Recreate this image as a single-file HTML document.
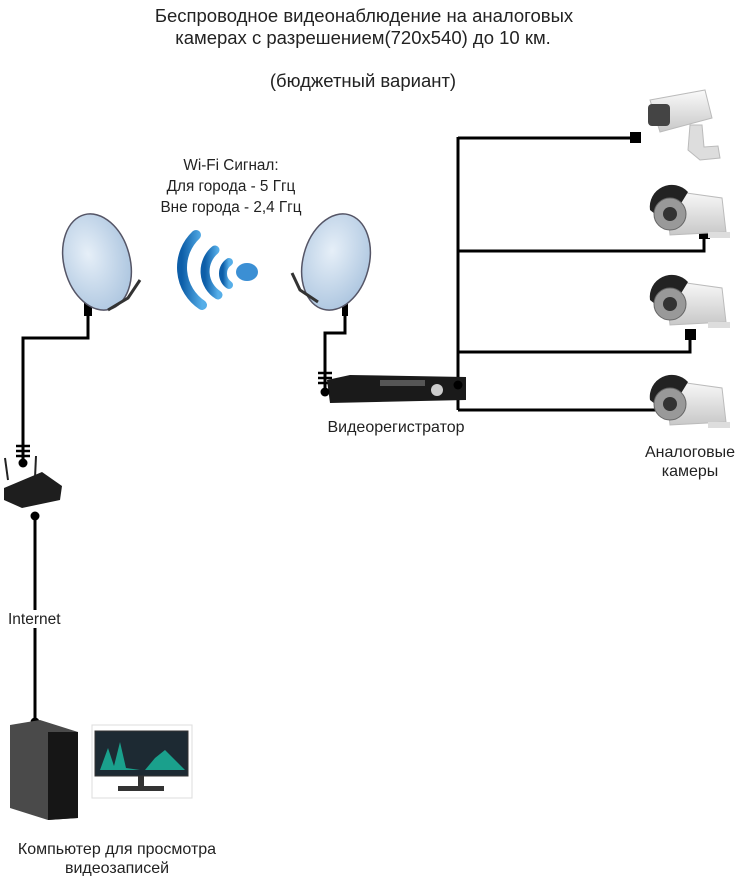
<!DOCTYPE html>
<html><head><meta charset="utf-8"><style>
html,body{margin:0;padding:0;background:#fff;}
svg{display:block;font-family:"Liberation Sans",sans-serif;}
</style></head><body>
<svg width="741" height="876" viewBox="0 0 741 876" xmlns="http://www.w3.org/2000/svg">
<defs>
<radialGradient id="dish" cx="40%" cy="40%" r="70%"><stop offset="0" stop-color="#e6eff8"/><stop offset="1" stop-color="#a9c3de"/></radialGradient>
<linearGradient id="wave" x1="0" x2="1"><stop offset="0" stop-color="#0d5ea8"/><stop offset="1" stop-color="#56aee8"/></linearGradient>
<linearGradient id="cam" x1="0" y1="0" x2="0" y2="1"><stop offset="0" stop-color="#fafafa"/><stop offset="1" stop-color="#c8c8c8"/></linearGradient>
</defs>
<g font-size="18.5" fill="#222" text-anchor="middle">
<text x="364" y="22">Беспроводное видеонаблюдение на аналоговых</text>
<text x="363" y="44">камерах с разрешением(720х540) до 10 км.</text>
<text x="363" y="87">(бюджетный вариант)</text>
</g>
<g font-size="15.3" fill="#222" text-anchor="middle">
<text x="231" y="170">Wi-Fi Сигнал:</text>
<text x="231" y="191">Для города - 5 Ггц</text>
<text x="231" y="212">Вне города - 2,4 Ггц</text>
</g>
<g font-size="16" fill="#222" text-anchor="middle">
<text x="396" y="432">Видеорегистратор</text>
<text x="690" y="457">Аналоговые</text>
<text x="690" y="476">камеры</text>
<text x="117" y="854">Компьютер для просмотра</text>
<text x="117" y="873">видеозаписей</text>
</g>
<g stroke="#000" stroke-width="3" fill="none">
<polyline points="88,300 88,338 23,338 23,463"/>
<line x1="35" y1="516" x2="35" y2="722"/>
<polyline points="345,300 345,333 325,333 325,392"/>
<line x1="458" y1="137" x2="458" y2="410"/>
<line x1="458" y1="138" x2="636" y2="138"/>
<polyline points="458,251 704,251 704,234"/>
<polyline points="458,352 690,352 690,334"/>
<line x1="458" y1="410" x2="665" y2="410"/>
<g stroke-width="2.5"><line x1="16" y1="446" x2="30" y2="446"/><line x1="16" y1="451" x2="30" y2="451"/><line x1="16" y1="456" x2="30" y2="456"/>
<line x1="318" y1="373" x2="332" y2="373"/><line x1="318" y1="378" x2="332" y2="378"/><line x1="318" y1="383" x2="332" y2="383"/></g>
</g>
<rect x="84" y="302" width="8" height="14" fill="#000"/>
<rect x="342" y="302" width="6" height="14" fill="#000"/>
<g transform="rotate(-15 97 262)"><ellipse cx="97" cy="262" rx="33" ry="49" fill="url(#dish)" stroke="#556" stroke-width="1.5"/></g>
<path d="M108 310 L128 298 L140 280" stroke="#333" stroke-width="3" fill="none"/>
<g transform="rotate(15 336 262)"><ellipse cx="336" cy="262" rx="33" ry="49" fill="url(#dish)" stroke="#556" stroke-width="1.5"/></g>
<path d="M318 302 L300 290 L292 273" stroke="#333" stroke-width="3" fill="none"/>
<g fill="none" stroke="url(#wave)" stroke-linecap="round">
<path d="M196 235 A45 45 0 0 0 202 305" stroke-width="10"/>
<path d="M215 250 A28 28 0 0 0 218 295" stroke-width="9"/>
<path d="M229 262 A14 14 0 0 0 229 285" stroke-width="8"/>
</g>
<ellipse cx="247" cy="272" rx="11" ry="9" fill="#3b8fd4"/>
<line x1="8" y1="480" x2="5" y2="458" stroke="#222" stroke-width="2"/>
<line x1="35" y1="478" x2="36" y2="456" stroke="#222" stroke-width="2"/>
<path d="M4 488 L42 472 L62 486 L60 500 L22 508 L4 500 Z" fill="#1e1e1e"/>
<path d="M327 380 L350 375 L466 377 L466 400 L330 403 Z" fill="#1a1a1a"/>
<rect x="380" y="380" width="45" height="6" fill="#555"/>
<circle cx="437" cy="390" r="6" fill="#ccc"/>
<g fill="#000">
<circle cx="23" cy="463" r="4.5"/><circle cx="35" cy="516" r="4.5"/><circle cx="35" cy="722" r="4.5"/>
<circle cx="325" cy="392" r="4.5"/><circle cx="458" cy="385" r="4.5"/>
<rect x="630" y="132" width="11" height="11"/><rect x="699" y="228" width="11" height="11"/>
<rect x="685" y="329" width="11" height="11"/><rect x="659" y="404" width="11" height="11"/>
</g>
<rect x="5" y="610" width="60" height="18" fill="#fff"/>
<text x="8" y="624" font-size="15.5" fill="#222">Internet</text>
<g>
<path d="M650 100 L705 90 L712 118 L660 132 Z" fill="url(#cam)" stroke="#bbb"/>
<rect x="648" y="104" width="22" height="22" rx="4" fill="#444"/>
<path d="M690 125 L688 150 L700 160 L720 158 L718 146 L704 147 L702 125 Z" fill="#ddd" stroke="#bbb"/>
</g>
<g id="b">
<path d="M665 190 L722 198 L726 232 L670 235 Z" fill="url(#cam)" stroke="#bbb"/>
<path d="M650 210 A22 22 0 0 1 688 192 L680 205 A10 10 0 0 0 660 218 Z" fill="#222"/>
<circle cx="670" cy="214" r="16" fill="#999" stroke="#666"/>
<circle cx="670" cy="214" r="7" fill="#333"/>
<rect x="708" y="232" width="22" height="6" fill="#ddd"/>
</g>
<use href="#b" transform="translate(0,90)"/>
<use href="#b" transform="translate(0,190)"/>
<path d="M10 725 L40 720 L78 732 L78 818 L48 820 L10 808 Z" fill="#4a4a4a"/>
<path d="M48 732 L78 732 L78 818 L48 820 Z" fill="#161616"/>
<rect x="92" y="725" width="100" height="73" fill="#fff" stroke="#ddd"/>
<rect x="95" y="731" width="93" height="45" fill="#1d2a33" stroke="#333"/>
<path d="M100 770 L108 748 L114 766 L120 742 L126 768 L140 770 Z" fill="#1aa08c"/>
<path d="M145 770 L155 758 L165 750 L175 760 L185 770 Z" fill="#1aa08c"/>
<rect x="138" y="776" width="6" height="10" fill="#333"/>
<rect x="118" y="786" width="46" height="5" fill="#333"/>
</svg>
</body></html>
